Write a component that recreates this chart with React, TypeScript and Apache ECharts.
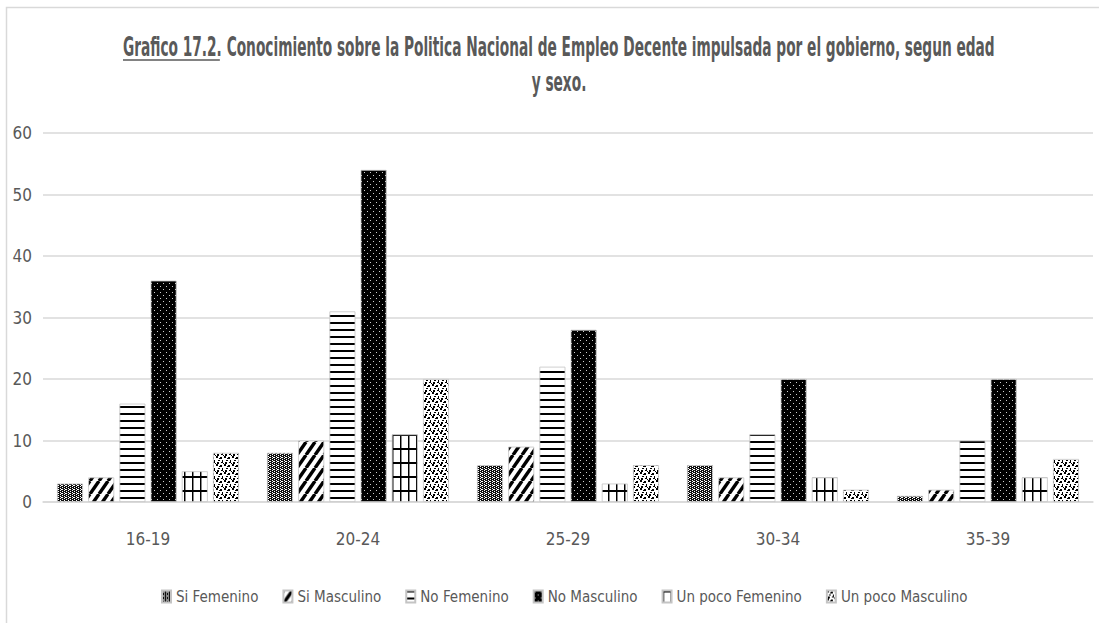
import React, { useEffect, useRef } from "react";
import * as echarts from "echarts";

const categories = ["16-19", "20-24", "25-29", "30-34", "35-39"];
const seriesNames = [
  "Si Femenino",
  "Si Masculino",
  "No Femenino",
  "No Masculino",
  "Un poco Femenino",
  "Un poco Masculino",
];
const siFemenino = [3, 8, 6, 6, 1];
const siMasculino = [4, 10, 9, 4, 2];
const noFemenino = [16, 31, 22, 11, 10];
const noMasculino = [36, 54, 28, 20, 20];
const unPocoFemenino = [5, 11, 3, 4, 4];
const unPocoMasculino = [8, 20, 6, 2, 7];
const yMin = 0;
const yMax = 60;
const yInterval = 10;

const titlePart1 = "Grafico 17.2.";
const titlePart2 = " Conocimiento sobre la Politica Nacional de Empleo Decente impulsada por el gobierno, segun edad";
const titleLine2 = "y sexo.";

const FONT = "'DejaVu Sans Condensed', sans-serif";
const GRAY = "#595959";

type Draw = (ctx: CanvasRenderingContext2D, w: number, h: number) => void;

function tile(w: number, h: number, draw: Draw) {
  const c = document.createElement("canvas");
  c.width = w;
  c.height = h;
  const ctx = c.getContext("2d")!;
  draw(ctx, w, h);
  return { image: c.toDataURL(), repeat: "repeat", imageWidth: w, imageHeight: h };
}

function makePatterns() {
  const siF = tile(4, 4, (ctx, w, h) => {
    ctx.fillStyle = "#111";
    ctx.fillRect(0, 0, w, h);
    ctx.fillStyle = "#fff";
    [[0, 0], [2, 1], [0, 2], [2, 3], [1, 1]].forEach(([x, y]) => ctx.fillRect(x, y, 1, 1));
  });
  const siM = tile(9, 13, (ctx, w, h) => {
    ctx.fillStyle = "#fff";
    ctx.fillRect(0, 0, w, h);
    ctx.strokeStyle = "#000";
    ctx.lineWidth = 3.4;
    for (let k = -1; k <= 1; k++) {
      ctx.beginPath();
      ctx.moveTo(k * w, h);
      ctx.lineTo((k + 1) * w, 0);
      ctx.stroke();
    }
  });
  const noF = tile(4, 7, (ctx, w, h) => {
    ctx.fillStyle = "#fff";
    ctx.fillRect(0, 0, w, h);
    ctx.fillStyle = "#000";
    ctx.fillRect(0, 0, w, 2);
  });
  const noM = tile(6, 6, (ctx, w, h) => {
    ctx.fillStyle = "#000";
    ctx.fillRect(0, 0, w, h);
    ctx.fillStyle = "#cfcfcf";
    ctx.fillRect(1, 1, 1, 1);
    ctx.fillRect(4, 4, 1, 1);
  });
  const upF = tile(8, 14, (ctx, w, h) => {
    ctx.fillStyle = "#fff";
    ctx.fillRect(0, 0, w, h);
    ctx.fillStyle = "#000";
    ctx.fillRect(0, 0, 1, h);
    ctx.fillRect(0, 0, w, 2);
    ctx.fillStyle = "#888";
    ctx.fillRect(1, 2, 1, h - 2);
  });
  const upM = tile(8, 8, (ctx, w, h) => {
    ctx.fillStyle = "#fff";
    ctx.fillRect(0, 0, w, h);
    ctx.fillStyle = "#000";
    [
      [0, 0, 2, 2], [4, 1, 2, 2], [2, 4, 2, 1], [6, 4, 1, 2],
      [1, 6, 2, 2], [5, 6, 2, 1], [3, 2, 1, 1], [7, 7, 1, 1],
    ].forEach(([x, y, a, b]) => ctx.fillRect(x, y, a, b));
  });
  return [siF, siM, noF, noM, upF, upM];
}

export default function App() {
  const ref = useRef<HTMLDivElement>(null);

  useEffect(() => {
    document.body.style.margin = "0";
    const el = ref.current!;
    const chart = echarts.init(el, undefined, { renderer: "svg" });
    const patterns = makePatterns();
    const dataSets = [siFemenino, siMasculino, noFemenino, noMasculino, unPocoFemenino, unPocoMasculino];

    const meas = document.createElement("canvas").getContext("2d")!;
    const titleFontSize = 20;
    const titleFont = `bold ${titleFontSize}px ${FONT}`;
    meas.font = titleFont;
    const w1 = meas.measureText(titlePart1).width;
    const w2 = meas.measureText(titlePart2).width;
    const titleLeft = 123;
    const titleRight = 995;
    const sx = (titleRight - titleLeft) / (w1 + w2);
    const sy = 1.3;
    const cx = (titleLeft + titleRight) / 2;
    const x0 = titleLeft;

    const option: any = {
      animation: false,
      backgroundColor: "#fff",
      grid: { left: 43, right: 6, top: 133, bottom: 121, containLabel: false },
      legend: {
        data: seriesNames,
        left: 156,
        top: 584,
        icon: "rect",
        itemWidth: 9,
        itemHeight: 12,
        itemGap: 24,
        textStyle: { fontFamily: FONT, fontSize: 15, color: GRAY },
      },
      xAxis: {
        type: "category",
        data: categories,
        axisLine: { lineStyle: { color: "#d9d9d9", width: 1.5 } },
        axisTick: { show: false },
        axisLabel: { fontFamily: FONT, fontSize: 17, color: GRAY, margin: 28 },
      },
      yAxis: {
        type: "value",
        min: yMin,
        max: yMax,
        interval: yInterval,
        axisLine: { show: false },
        axisTick: { show: false },
        splitLine: { lineStyle: { color: "#d9d9d9", width: 1.5 } },
        axisLabel: { fontFamily: FONT, fontSize: 17, color: GRAY, margin: 11 },
      },
      series: seriesNames.map((name, i) => ({
        name,
        type: "bar",
        data: dataSets[i],
        barWidth: 26,
        barGap: "20%",
        itemStyle: { color: patterns[i], borderColor: "#c4c4c4", borderWidth: 0.8 },
      })),
      graphic: [
        {
          type: "rect",
          silent: true,
          shape: { x: 6.5, y: 7.5, width: 1200, height: 800 },
          style: { fill: "none", stroke: "#d9d9d9", lineWidth: 1.5 },
        },
        {
          type: "text",
          x: x0,
          y: 47,
          scaleX: sx,
          scaleY: sy,
          style: { text: titlePart1, font: titleFont, fill: GRAY, textAlign: "left", textVerticalAlign: "middle" },
        },
        {
          type: "text",
          x: x0 + w1 * sx,
          y: 47,
          scaleX: sx,
          scaleY: sy,
          style: { text: titlePart2, font: titleFont, fill: GRAY, textAlign: "left", textVerticalAlign: "middle" },
        },
        {
          type: "line",
          shape: { x1: x0, y1: 60, x2: x0 + w1 * sx - 2, y2: 60 },
          style: { stroke: GRAY, lineWidth: 1.6 },
        },
        {
          type: "text",
          x: cx,
          y: 82,
          scaleX: sx,
          scaleY: sy,
          style: { text: titleLine2, font: titleFont, fill: GRAY, textAlign: "center", textVerticalAlign: "middle" },
        },
      ],
    };
    chart.setOption(option);
    return () => chart.dispose();
  }, []);

  return <div ref={ref} style={{ width: 1099, height: 623 }} />;
}
